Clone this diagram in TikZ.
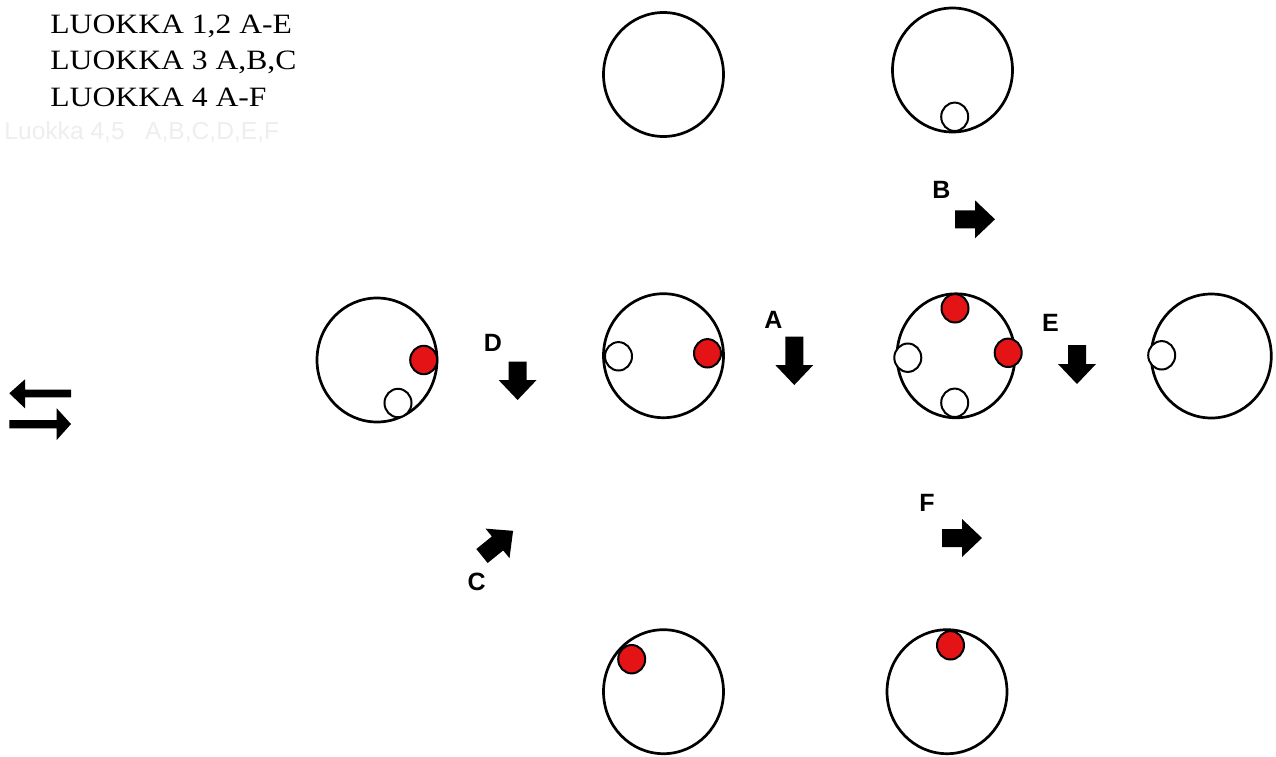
\documentclass[tikz,border=0pt]{standalone}
\usepackage{fontspec}
\setmainfont{Liberation Serif}
\newfontfamily\widetimes[FakeStretch=1.13]{Liberation Serif}
\newfontfamily\arialfont{Liberation Sans}
\usetikzlibrary{shapes.geometric}
\definecolor{dotred}{RGB}{227,19,22}
\definecolor{faint}{RGB}{238,238,238}
\tikzset{
  bigc/.style={ellipse, draw=black, line width=1.35pt, fill=none, minimum width=60pt, minimum height=62pt, inner sep=0pt},
  wdot/.style={ellipse, draw=black, line width=1pt, fill=white, minimum width=13.5pt, minimum height=14.2pt, inner sep=0pt},
  rdot/.style={wdot, fill=dotred},
  lbl/.style={font=\arialfont\bfseries\fontsize{12.5}{15}\selectfont, anchor=base, inner sep=0pt},
  luokka/.style={font=\widetimes\fontsize{14}{16}\selectfont, anchor=base west, inner sep=0pt},
  pics/barrow/.style={code={
    \fill[black] (0,-9) -- (#1,-9) -- (#1,-19) -- (#1+20,0) -- (#1,19) -- (#1,9) -- (0,9) -- cycle;}}
}
\begin{document}
\begin{tikzpicture}[x=0.5pt,y=-0.5pt]
\useasboundingbox (0,0) rectangle (1276,756);
\fill[white] (0,0) rectangle (1276,756);

% texts top-left
\node[luokka] (l1) at (50,33.3) {LUOKKA 1,2 A-E};
\node[luokka] (l2) at (50,69.5) {LUOKKA 3 A,B,C};
\node[luokka] (l3) at (50,106.2) {LUOKKA 4 A-F};
\node[font=\arialfont\fontsize{12.3}{15}\selectfont, anchor=base west, inner sep=0pt, text=faint] (l4) at (4,139.3) {Luokka 4,5\ \ \ A,B,C,D,E,F};

% big circles
\node[bigc] (t1) at (663.5,74.5) {};
\node[bigc] (t2) at (952.5,70) {};
\node[bigc] (m1) at (377,360) {};
\node[bigc] (m2) at (663.5,355.7) {};
\node[bigc, minimum width=59pt] (m3) at (956,355.8) {};
\node[bigc] (m4) at (1211.3,356) {};
\node[bigc] (b1) at (663.5,691.7) {};
\node[bigc] (b2) at (947,691.7) {};

% small circles
\node[wdot] (t2w) at (954.7,116.8) {};
\node[rdot] (m1r) at (423.7,360) {};
\node[wdot] (m1w) at (398,403) {};
\node[wdot] (m2w) at (618.5,356.3) {};
\node[rdot] (m2r) at (707.5,353.3) {};
\node[rdot] (m3t) at (955,308.3) {};
\node[rdot] (m3r) at (1008.2,352.8) {};
\node[wdot] (m3l) at (907.8,357.7) {};
\node[wdot] (m3b) at (954.7,402.8) {};
\node[wdot] (m4w) at (1161.7,355.3) {};
\node[rdot] (b1r) at (631.7,659.2) {};
\node[rdot] (b2r) at (950.5,645.3) {};

% labels
\node[lbl] (lB) at (941.3,198.3) {B};
\node[lbl] (lA) at (773.3,328.3) {A};
\node[lbl] (lD) at (493,351.7) {D};
\node[lbl] (lE) at (1050.5,331.7) {E};
\node[lbl] (lF) at (927,511) {F};
\node[lbl] (lC) at (476.7,590.5) {C};

% block arrows
\pic at (955,219.3) {barrow=20};
\pic at (942,538) {barrow=20};
\pic[rotate=-90] at (517.6,361.7) {barrow=18.3};
\pic[rotate=-90] at (794.3,336.7) {barrow=28.3};
\pic[rotate=-90] at (1077,345) {barrow=19};
\pic[rotate=39] at (482,556) {barrow=20};

% left double arrow
\fill[black] (9.3,393.3) -- (25,379.3) -- (25,389.6) -- (71,389.6) -- (71,397.4) -- (25,397.4) -- (25,408.3) -- cycle;
\fill[black] (71,424) -- (56.7,408.3) -- (56.7,420) -- (9.3,420) -- (9.3,428.3) -- (56.7,428.3) -- (56.7,440) -- cycle;
\end{tikzpicture}
\end{document}
